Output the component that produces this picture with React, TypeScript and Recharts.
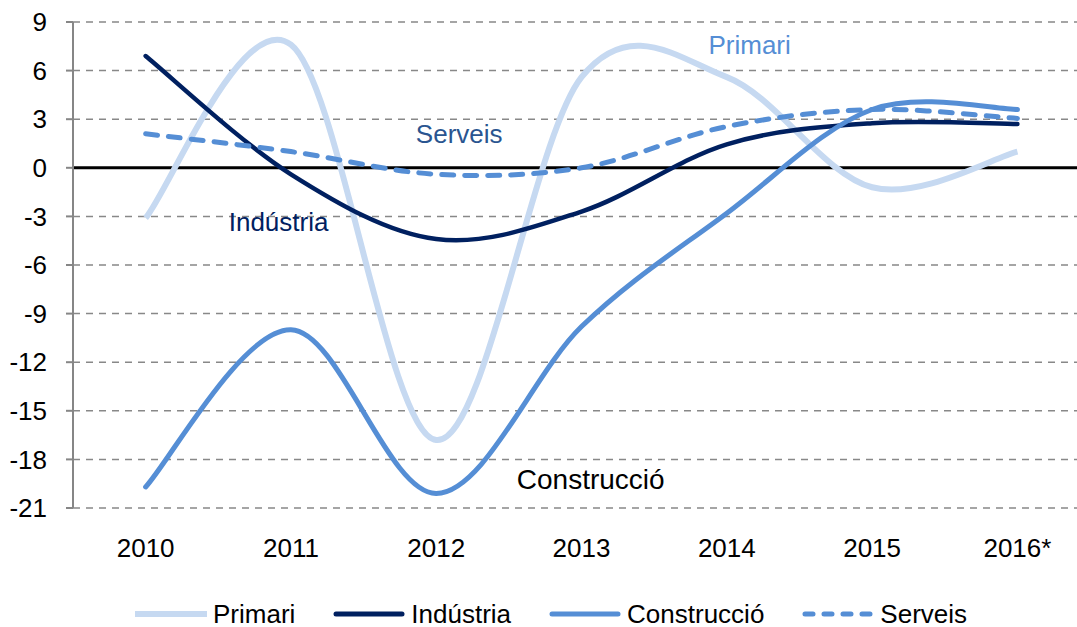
import React from 'react';
import {
  LineChart,
  Line,
  XAxis,
  YAxis,
  CartesianGrid,
  ReferenceLine,
  ReferenceDot,
  Legend,
} from 'recharts';

// Annual change by sector (%)
const years = ['2010', '2011', '2012', '2013', '2014', '2015', '2016*'];
const primari = [-3.1, 7.6, -16.8, 5.6, 5.6, -1.2, 1.0];
const industria = [6.9, -0.4, -4.4, -2.7, 1.45, 2.75, 2.7];
const construccio = [-19.7, -10.0, -20.1, -9.8, -2.8, 3.6, 3.6];
const serveis = [2.1, 1.0, -0.4, 0.0, 2.55, 3.6, 3.05];
const yTicks = [-21, -18, -15, -12, -9, -6, -3, 0, 3, 6, 9];
const seriesOrder = ['Primari', 'Indústria', 'Construcció', 'Serveis'];

const data = years.map((year, i) => ({
  i,
  year,
  primari: primari[i],
  industria: industria[i],
  construccio: construccio[i],
  serveis: serveis[i],
}));

const FONT = '"Liberation Sans", Arial, sans-serif';
const LIGHT = '#c6d9f1';
const NAVY = '#002060';
const MID = '#558ed5';

// Excel-style smoothed line: cubic bezier through every point (Catmull-Rom, /6 tangents)
const excelSmooth = (ctx: any) => {
  let pts: number[][] = [];
  return {
    areaStart() {},
    areaEnd() {},
    lineStart() {
      pts = [];
    },
    point(x: number, y: number) {
      pts.push([+x, +y]);
    },
    lineEnd() {
      if (!pts.length) return;
      ctx.moveTo(pts[0][0], pts[0][1]);
      for (let k = 0; k < pts.length - 1; k++) {
        const p0 = pts[k - 1] || pts[k];
        const p1 = pts[k];
        const p2 = pts[k + 1];
        const p3 = pts[k + 2] || p2;
        ctx.bezierCurveTo(
          p1[0] + (p2[0] - p0[0]) / 6,
          p1[1] + (p2[1] - p0[1]) / 6,
          p2[0] - (p3[0] - p1[0]) / 6,
          p2[1] - (p3[1] - p1[1]) / 6,
          p2[0],
          p2[1],
        );
      }
    },
  };
};

const legendSample: Record<string, any> = {
  Primari: { stroke: LIGHT, strokeWidth: 6, cap: 'butt' },
  'Indústria': { stroke: NAVY, strokeWidth: 5, cap: 'round' },
  'Construcció': { stroke: MID, strokeWidth: 5, cap: 'round' },
  Serveis: { stroke: MID, strokeWidth: 5, cap: 'round', dash: '8 11' },
};

const renderLegend = (props: any) => {
  const payload = [...(props.payload || [])].sort(
    (a: any, b: any) => seriesOrder.indexOf(a.value) - seriesOrder.indexOf(b.value),
  );
  return (
    <div
      style={{
        display: 'flex',
        alignItems: 'center',
        height: 26,
        paddingLeft: 135,
        fontFamily: FONT,
        fontSize: 26,
        lineHeight: '26px',
        color: '#000',
      }}
    >
      {payload.map((e: any) => {
        const s = legendSample[e.value] || { stroke: e.color, strokeWidth: 5, cap: 'round' };
        return (
          <div key={e.value} style={{ display: 'flex', alignItems: 'center', marginRight: 38 }}>
            <svg width={72} height={12}>
              <line
                x1={s.cap === 'round' ? 3 : 0}
                y1={6}
                x2={s.cap === 'round' ? 69 : 72}
                y2={6}
                stroke={s.stroke}
                strokeWidth={s.strokeWidth}
                strokeLinecap={s.cap}
                strokeDasharray={s.dash}
              />
            </svg>
            <span style={{ marginLeft: 6 }}>{e.value}</span>
          </div>
        );
      })}
    </div>
  );
};

const labelStyle = (text: string, color: string, size = 26) => ({
  value: text,
  position: 'center' as const,
  fill: color,
  fontSize: size,
  fontFamily: FONT,
});

export default function App() {
  return (
    <div style={{ position: 'absolute', left: 0, top: 0, width: 1077, height: 627, background: '#fff' }}>
      <LineChart width={1077} height={627} data={data} margin={{ top: 22, right: 0, bottom: 33, left: 0 }}>
        <CartesianGrid vertical={false} stroke="#888" strokeWidth={1.5} strokeDasharray="7 6" />
        <XAxis
          type="number"
          dataKey="i"
          domain={[-0.5, 6.41]}
          allowDataOverflow
          ticks={[0, 1, 2, 3, 4, 5, 6]}
          interval={0}
          tickFormatter={(v: number) => years[v]}
          axisLine={false}
          tickLine={false}
          tickSize={6}
          tickMargin={25}
          height={60}
          tick={{ fontSize: 26, fill: '#000', fontFamily: FONT }}
        />
        <YAxis
          domain={[-21, 9]}
          ticks={yTicks}
          interval={0}
          width={73}
          axisLine={{ stroke: '#868686', strokeWidth: 2 }}
          tickLine={{ stroke: '#868686', strokeWidth: 2 }}
          tickSize={7}
          tickMargin={19}
          tick={{ fontSize: 26, fill: '#000', fontFamily: FONT }}
        />
        <ReferenceLine y={0} stroke="#000" strokeWidth={3} />
        <Line
          name="Primari"
          dataKey="primari"
          type={excelSmooth as any}
          stroke={LIGHT}
          strokeWidth={6}
          dot={false}
          activeDot={false}
          isAnimationActive={false}
        />
        <Line
          name="Indústria"
          dataKey="industria"
          type={excelSmooth as any}
          stroke={NAVY}
          strokeWidth={4.5}
          strokeLinecap="round"
          dot={false}
          activeDot={false}
          isAnimationActive={false}
        />
        <Line
          name="Construcció"
          dataKey="construccio"
          type={excelSmooth as any}
          stroke={MID}
          strokeWidth={5}
          strokeLinecap="round"
          dot={false}
          activeDot={false}
          isAnimationActive={false}
        />
        <Line
          name="Serveis"
          dataKey="serveis"
          type={excelSmooth as any}
          stroke={MID}
          strokeWidth={5}
          strokeDasharray="12 11"
          strokeLinecap="round"
          dot={false}
          activeDot={false}
          isAnimationActive={false}
        />
        <ReferenceDot x={4.157} y={7.62} r={1} fill="none" stroke="none" label={labelStyle('Primari', MID)} />
        <ReferenceDot x={2.158} y={2.13} r={1} fill="none" stroke="none" label={labelStyle('Serveis', '#2a5590')} />
        <ReferenceDot x={0.915} y={-3.36} r={1} fill="none" stroke="none" label={labelStyle('Indústria', NAVY)} />
        <ReferenceDot x={3.063} y={-19.23} r={1} fill="none" stroke="none" label={labelStyle('Construcció', '#000', 28)} />
        <Legend
          content={renderLegend}
          verticalAlign="bottom"
          wrapperStyle={{ top: 601, left: 0, width: 1077, height: 26 }}
        />
      </LineChart>
    </div>
  );
}
